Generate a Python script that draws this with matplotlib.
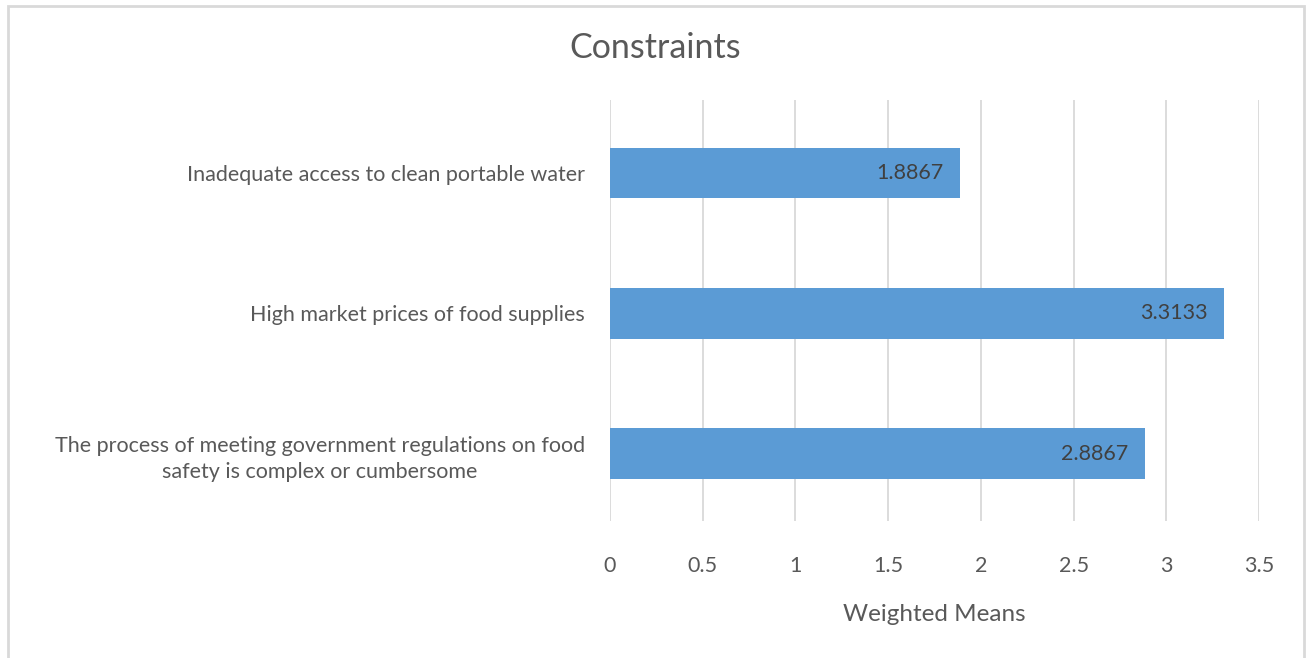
import matplotlib.pyplot as plt
from matplotlib.patches import Rectangle

plt.rcParams['font.family'] = ['Lato', 'DejaVu Sans']

# data
categories = ['The process of meeting government regulations on food\nsafety is complex or cumbersome',
              'High market prices of food supplies',
              'Inadequate access to clean portable water']
means = [2.8867, 3.3133, 1.8867]
labels = ['2.8867', '3.3133', '1.8867']
xticks = [0, 0.5, 1, 1.5, 2, 2.5, 3, 3.5]

txt = '#595959'
fig = plt.figure(figsize=(13.07, 6.58), dpi=100)
ax = fig.add_axes([0.4667, 0.2082, 0.4966, 0.6398])

ypos = range(len(categories))
bars = ax.barh(ypos, means, height=0.36, color='#5B9BD5', zorder=3)
for b, lab in zip(bars, labels):
    ax.text(b.get_width() - 0.09, b.get_y() + b.get_height() / 2, lab,
            ha='right', va='center', fontsize=15.5, color='#404040', zorder=4)

ax.set_xlim(0, 3.5)
ax.set_ylim(-0.48, 2.52)
ax.set_xticks(xticks)
ax.set_xticklabels(['0', '0.5', '1', '1.5', '2', '2.5', '3', '3.5'])
ax.set_yticks(list(ypos))
ax.set_yticklabels(categories, multialignment='center', linespacing=1.4)
ax.tick_params(axis='both', length=0, labelsize=15.5, colors=txt)
ax.tick_params(axis='x', pad=25)
ax.tick_params(axis='y', pad=18)
ax.xaxis.grid(True, color='#D9D9D9', linewidth=1.3, zorder=0)
for s in ax.spines.values():
    s.set_visible(False)

ax.set_xlabel('Weighted Means', fontsize=17.5, color=txt, labelpad=20)
fig.text(0.501, 0.927, 'Constraints', ha='center', va='center', fontsize=24.5, color=txt)

fig.patches.append(Rectangle((0.0065, -0.05), 0.991, 1.041, transform=fig.transFigure,
                             fill=False, edgecolor='#D9D9D9', linewidth=2))

fig.savefig('out.png', dpi=100)
